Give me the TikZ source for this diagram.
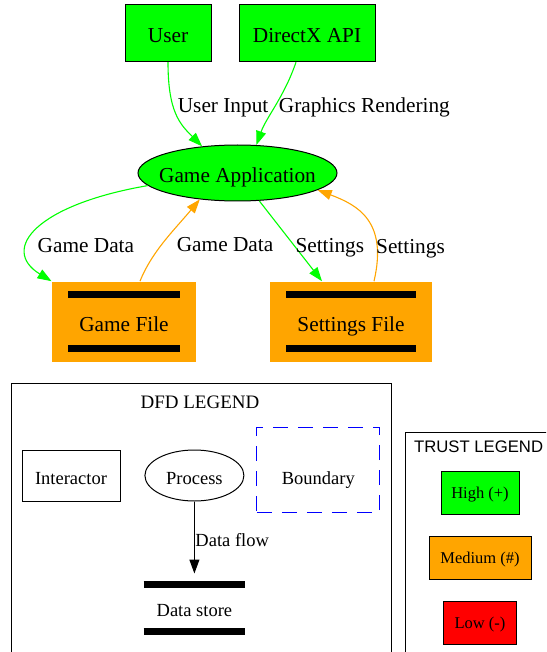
\documentclass[tikz,border=0pt]{standalone}
\usepackage{fontspec}
\setmainfont{Liberation Serif}
\newfontfamily\legendsans{Liberation Sans}
\usetikzlibrary{arrows.meta,shapes.geometric}
\definecolor{trusthigh}{HTML}{00FF00}
\definecolor{trustmed}{HTML}{FFA500}
\definecolor{trustlow}{HTML}{FF0000}

\begin{document}
\begin{tikzpicture}[x=1pt, y=-1pt, line width=1pt,
font=\fontsize{21.3}{25}\selectfont,
maintext/.style={text height=21pt, text depth=2pt},
legtext/.style={font=\fontsize{18.5}{22}\selectfont, text height=19pt, text depth=1.4pt},
entity/.style={draw, fill=trusthigh, minimum height=57pt, inner sep=0pt, maintext},
proc/.style={draw, ellipse, inner sep=0pt},
bars/.style 2 args={path picture={
  \draw[line width=7pt] ([xshift=#1, yshift=-#2]path picture bounding box.north west) -- ([xshift=-#1, yshift=-#2]path picture bounding box.north east);
  \draw[line width=7pt] ([xshift=#1, yshift=#2]path picture bounding box.south west) -- ([xshift=-#1, yshift=#2]path picture bounding box.south east);}},
store/.style={fill=trustmed, minimum height=80pt, inner sep=0pt, maintext, bars={16pt}{13pt}},
trustbox/.style={draw, minimum height=43pt, font=\fontsize{16.5}{20}\selectfont, text height=16pt, text depth=3.6pt},
flowline/.style={-{Triangle[length=14pt, width=10pt]}, line width=1.1pt},
hiflow/.style={flowline, color=trusthigh},
medflow/.style={flowline, color=trustmed},
flowlabel/.style={right, text=black}]
\useasboundingbox (0,0) rectangle (546,652);
\clip (0,0) rectangle (546,652);

% diagram
\node[entity, minimum width=86pt] (user) at (168,33.2) {User};
\node[entity, minimum width=136pt] (directx) at (307,33.2) {DirectX API};
\node[proc, fill=trusthigh, minimum width=199pt, minimum height=56pt, label={[maintext]center:Game Application}] (app) at (237.5,173) {};
\node[store, minimum width=144pt] (gamefile) at (124,321.7) {Game File};
\node[store, minimum width=162pt] (setfile) at (351,321.7) {Settings File};

\draw[hiflow] (user.south) .. controls +(0,50) and +(-22,-22) .. node[flowlabel, pos=0.41]{User Input} (app.143);
\draw[hiflow] ([xshift=-11pt]directx.south) .. controls +(-12,35) and +(10,-28) .. node[flowlabel, pos=0.51]{Graphics Rendering} (app.56);
\draw[hiflow] (app.188) .. controls +(-111,19) and +(-52,-32) .. node[flowlabel, pos=0.66, xshift=5pt]{Game Data} (gamefile.north west);
\draw[medflow] ([xshift=16pt]gamefile.north) .. controls +(12,-30) and +(-25,30) .. node[flowlabel, pos=0.45, xshift=11pt]{Game Data} (app.215);
\draw[hiflow] (app.308) -- node[flowlabel, pos=0.58, xshift=-4pt]{Settings} ([xshift=-29pt]setfile.north);
\draw[medflow] ([xshift=23pt]setfile.north) .. controls +(14,-60) and +(40,15) .. node[flowlabel, pos=0.21, xshift=-5pt]{Settings} (app.348);

% DFD legend
\node[draw, anchor=north west, minimum width=380pt, minimum height=300pt] (dfdframe) at (11,383) {};
\node[font=\fontsize{19}{23}\selectfont] (dfdtitle) at (200,402.5) {DFD LEGEND};
\node[draw, legtext, minimum width=98pt, minimum height=51pt] (interactor) at (71,475.5) {Interactor};
\node[proc, legtext, minimum width=99pt, minimum height=51pt] (process) at (194.4,475.5) {Process};
\node[draw=blue, dash pattern=on 15pt off 10pt, minimum width=123pt, minimum height=85pt, label={[legtext, yshift=-6pt]center:Boundary}] (boundary) at (318.3,469.5) {};
\node[legtext, bars={0pt}{10.3pt}, minimum width=101.5pt, minimum height=68pt, inner sep=0pt] (datastore) at (194.4,608) {Data store};
\draw[flowline] (process.south) -- node[legtext, right, inner sep=0.5pt]{Data flow} (datastore.north);

% trust legend
\node[draw, anchor=north west, minimum width=200pt, minimum height=260pt] (trustframe) at (405,432) {};
\node[font=\legendsans\fontsize{16.7}{20}\selectfont] (trusttitle) at (478.6,446.7) {TRUST LEGEND};
\node[trustbox, fill=trusthigh, minimum width=78pt] (high) at (480,492.5) {High (+)};
\node[trustbox, fill=trustmed, minimum width=102pt] (medium) at (480,557.5) {Medium (\#)};
\node[trustbox, fill=trustlow, minimum width=73pt] (low) at (480,622.5) {Low (-)};
\end{tikzpicture}
\end{document}
